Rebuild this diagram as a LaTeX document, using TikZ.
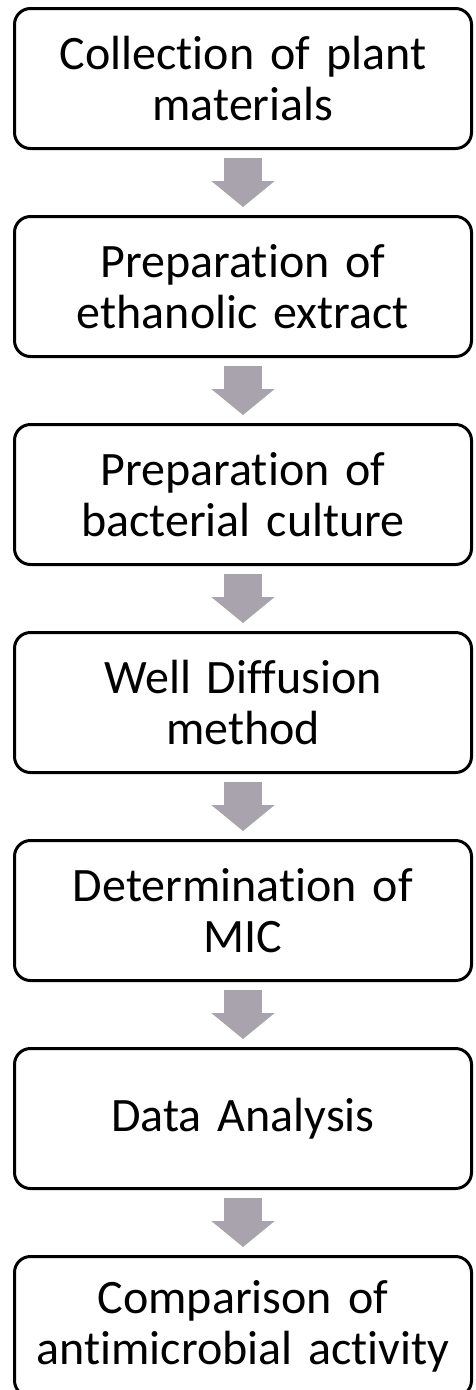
\documentclass[tikz,border=0pt]{standalone}
\usepackage{fontspec}
\setmainfont{Carlito}[RawFeature=-liga, WordSpace=0.8]
\usetikzlibrary{positioning,arrows.meta}

\definecolor{arrowgray}{RGB}{168,163,172}
\tikzset{
  stepbox/.style={draw, line width=3pt, rounded corners=16pt, fill=white,
    minimum width=457pt, minimum height=140pt, text width=455pt,
    inner sep=0pt, align=center, font=\fontsize{48}{51}\selectfont},
  flow/.style={arrowgray, line width=38pt,
    -{Triangle[width=62pt,length=26pt]}, shorten <=8pt, shorten >=8pt}
}

\begin{document}
\begin{tikzpicture}[x=1pt, y=1pt, node distance=65pt]

  \useasboundingbox (0,0) rectangle (475,-1390);
  \clip (0,0) rectangle (475,-1390);

  % steps
  \node[stepbox] at (243,-78.5) (collect)  {Collection of plant\\materials};
  \node[stepbox, below=of collect] (extract)  {Preparation of\\ethanolic extract};
  \node[stepbox, below=of extract] (culture)  {Preparation of\\bacterial culture};
  \node[stepbox, below=of culture] (well)     {Well Diffusion\\method};
  \node[stepbox, below=of well]    (mic)      {Determination of\\MIC};
  \node[stepbox, below=of mic]     (analysis) {Data Analysis};
  \node[stepbox, below=of analysis] (compare) {Comparison of\\antimicrobial activity};

  % block arrows
  \draw[flow] (collect) -- (extract);
  \draw[flow] (extract) -- (culture);
  \draw[flow] (culture) -- (well);
  \draw[flow] (well) -- (mic);
  \draw[flow] (mic) -- (analysis);
  \draw[flow] (analysis) -- (compare);

\end{tikzpicture}
\end{document}
